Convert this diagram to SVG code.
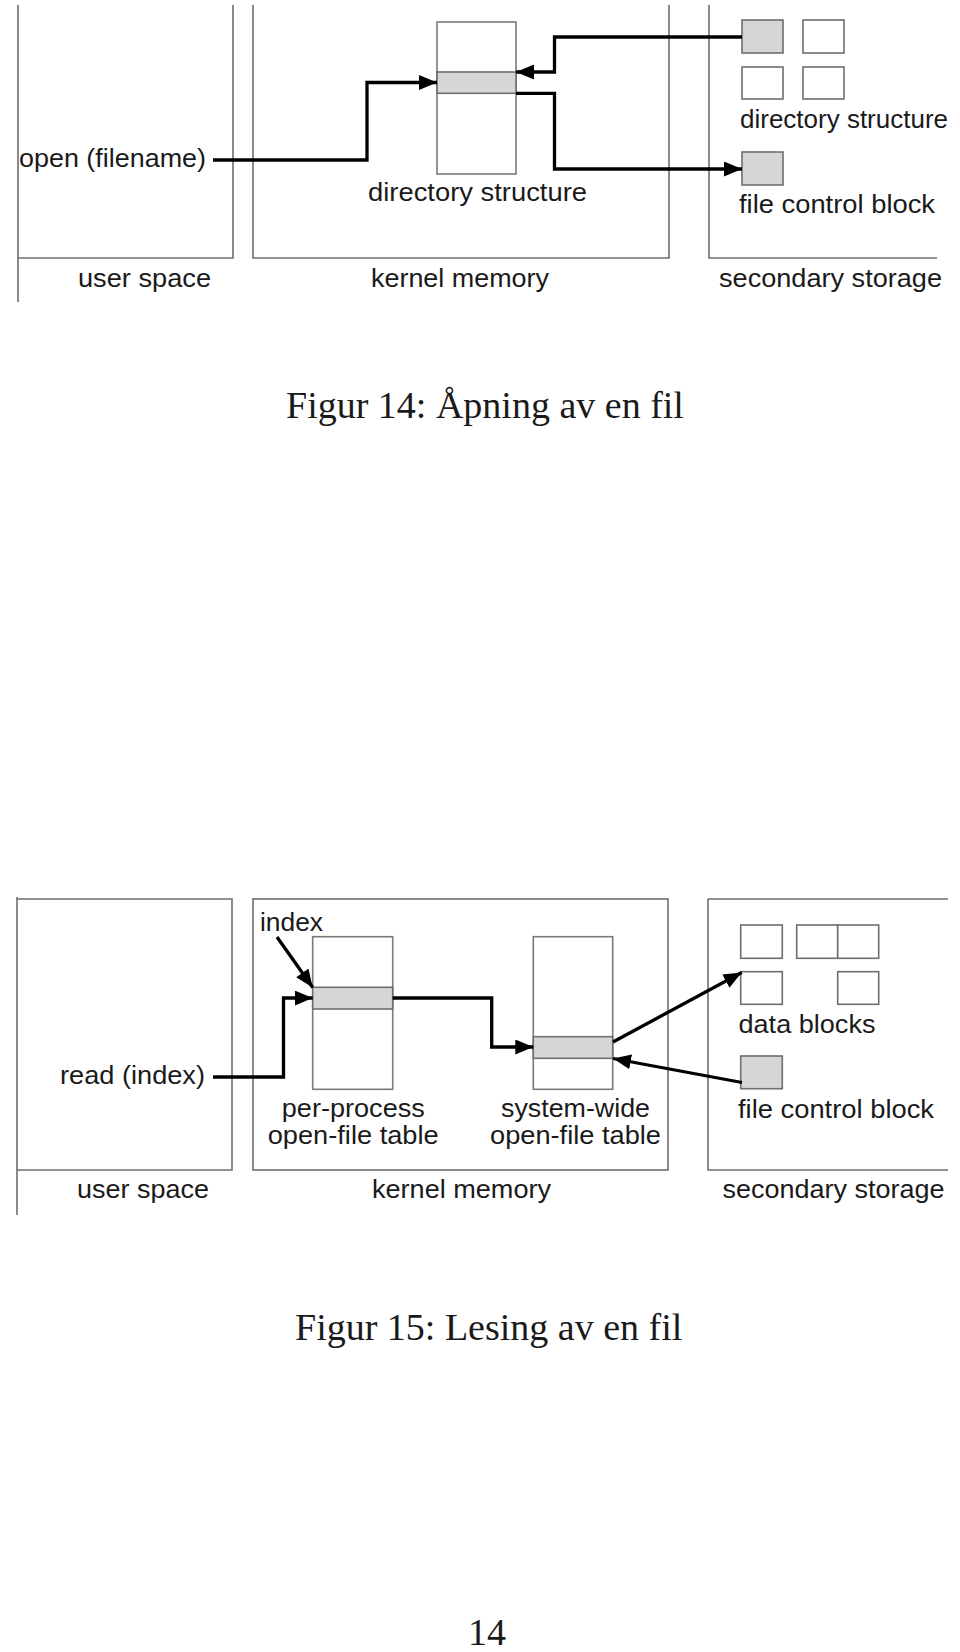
<svg xmlns="http://www.w3.org/2000/svg" width="960" height="1652" viewBox="0 0 960 1652">
<style>
.frame{fill:none;stroke:#6e6e6e;stroke-width:1.6}
.tbl{fill:#fff;stroke:#7a7a7a;stroke-width:1.6}
.sh{fill:#d6d6d6;stroke:#6e6e6e;stroke-width:1.6}
.blk{fill:#fff;stroke:#6e6e6e;stroke-width:1.6}
.conn{fill:none;stroke:#000;stroke-width:3.3;marker-end:url(#ah)}
.lbl{font-family:"Liberation Sans",Arial,sans-serif;font-size:26.7px;fill:#1a1a1a}
.mid{text-anchor:middle}
.cap{font-family:"Liberation Serif","Times New Roman",serif;font-size:38px;fill:#1a1a1a}
</style>
<defs>
<marker id="ah" markerUnits="userSpaceOnUse" markerWidth="20" markerHeight="16" refX="18" refY="7.5" orient="auto">
<path d="M0,0 L18,7.5 L0,15 Z" fill="#000"/>
</marker>
</defs>
<rect width="960" height="1652" fill="#fff"/>

<!-- Figure 14 -->
<g id="fig14-frames">
<path class="frame" d="M18,5 V302 M233,5 V258 H18 M253,5 V258 H669 V5 M709,5 V258 H937"/>
</g>
<g id="fig14-dirtable">
<rect class="tbl" x="437" y="22" width="79" height="152"/>
<rect class="sh" x="437" y="72" width="79" height="21.3"/>
</g>
<g id="fig14-dirblocks">
<rect class="sh" x="742" y="20" width="41" height="33"/>
<rect class="blk" x="803" y="20" width="41" height="33"/>
<rect class="blk" x="742" y="67" width="41" height="32"/>
<rect class="blk" x="803" y="67" width="41" height="32"/>
</g>
<g id="fig14-fcb">
<rect class="sh" x="742" y="152" width="41" height="33"/>
</g>
<g id="fig14-labels">
<text class="lbl" x="19" y="167" textLength="187" lengthAdjust="spacingAndGlyphs">open (filename)</text>
<text class="lbl" x="368" y="201" textLength="219" lengthAdjust="spacingAndGlyphs">directory structure</text>
<text class="lbl" x="740" y="128" textLength="208" lengthAdjust="spacingAndGlyphs">directory structure</text>
<text class="lbl" x="739" y="213" textLength="196" lengthAdjust="spacingAndGlyphs">file control block</text>
<text class="lbl" x="78" y="287" textLength="133" lengthAdjust="spacingAndGlyphs">user space</text>
<text class="lbl" x="371" y="287" textLength="178" lengthAdjust="spacingAndGlyphs">kernel memory</text>
<text class="lbl" x="719" y="287" textLength="223" lengthAdjust="spacingAndGlyphs">secondary storage</text>
</g>
<g id="fig14-connectors">
<path class="conn" d="M213,160 H367 V82.5 H437"/>
<path class="conn" d="M742,37 H554.5 V72 H516"/>
<path class="conn" d="M516,93.3 H554.5 V169 H742"/>
</g>
<text id="cap14" class="cap" x="286" y="418">Figur 14: Åpning av en fil</text>

<!-- Figure 15 -->
<g id="fig15-frames">
<path class="frame" d="M17,897 V1215 M17,899 H232 V1170 H17 M708,899 H948 M948,1170 H708 V899"/>
<rect class="frame" x="253" y="899" width="415" height="271"/>
</g>
<g id="fig15-perprocess">
<rect class="tbl" x="312.7" y="936.7" width="80" height="152.6"/>
<rect class="sh" x="312.7" y="987.3" width="80" height="21.7"/>
</g>
<g id="fig15-systemwide">
<rect class="tbl" x="533.3" y="936.7" width="79.4" height="152.6"/>
<rect class="sh" x="533.3" y="1036.7" width="79.4" height="21.6"/>
</g>
<g id="fig15-datablocks">
<rect class="blk" x="740.7" y="925" width="41.6" height="33.3"/>
<rect class="blk" x="796.7" y="925" width="41" height="33.3"/>
<rect class="blk" x="837.7" y="925" width="41" height="33.3"/>
<rect class="blk" x="740.7" y="971.7" width="41.6" height="32.6"/>
<rect class="blk" x="837.7" y="971.7" width="41" height="32.6"/>
</g>
<g id="fig15-fcb">
<rect class="sh" x="740.7" y="1056" width="41.6" height="32.7"/>
</g>
<g id="fig15-labels">
<text class="lbl" x="260" y="930.5" textLength="63" lengthAdjust="spacingAndGlyphs">index</text>
<text class="lbl" x="60" y="1083.5" textLength="145" lengthAdjust="spacingAndGlyphs">read (index)</text>
<text class="lbl mid" x="353.3" y="1117" textLength="143" lengthAdjust="spacingAndGlyphs">per-process</text>
<text class="lbl mid" x="353.2" y="1144" textLength="171" lengthAdjust="spacingAndGlyphs">open-file table</text>
<text class="lbl mid" x="575.5" y="1117" textLength="149" lengthAdjust="spacingAndGlyphs">system-wide</text>
<text class="lbl mid" x="575.5" y="1144" textLength="171" lengthAdjust="spacingAndGlyphs">open-file table</text>
<text class="lbl" x="738.5" y="1033" textLength="137" lengthAdjust="spacingAndGlyphs">data blocks</text>
<text class="lbl" x="738" y="1118" textLength="196" lengthAdjust="spacingAndGlyphs">file control block</text>
<text class="lbl" x="77" y="1198" textLength="132" lengthAdjust="spacingAndGlyphs">user space</text>
<text class="lbl" x="372" y="1198" textLength="179" lengthAdjust="spacingAndGlyphs">kernel memory</text>
<text class="lbl" x="722.5" y="1198" textLength="222" lengthAdjust="spacingAndGlyphs">secondary storage</text>
</g>
<g id="fig15-connectors">
<path class="conn" d="M277,937 L312.7,987.5"/>
<path class="conn" d="M213,1077 H283.5 V998 H312.7"/>
<path class="conn" d="M392.7,998 H491.7 V1047 H533.3"/>
<path class="conn" d="M613,1042 L741.7,972.5"/>
<path class="conn" d="M742,1082.5 L613,1058.5"/>
</g>
<text id="cap15" class="cap" x="295" y="1340">Figur 15: Lesing av en fil</text>
<text id="pagenum" class="cap" x="468" y="1645">14</text>
</svg>
